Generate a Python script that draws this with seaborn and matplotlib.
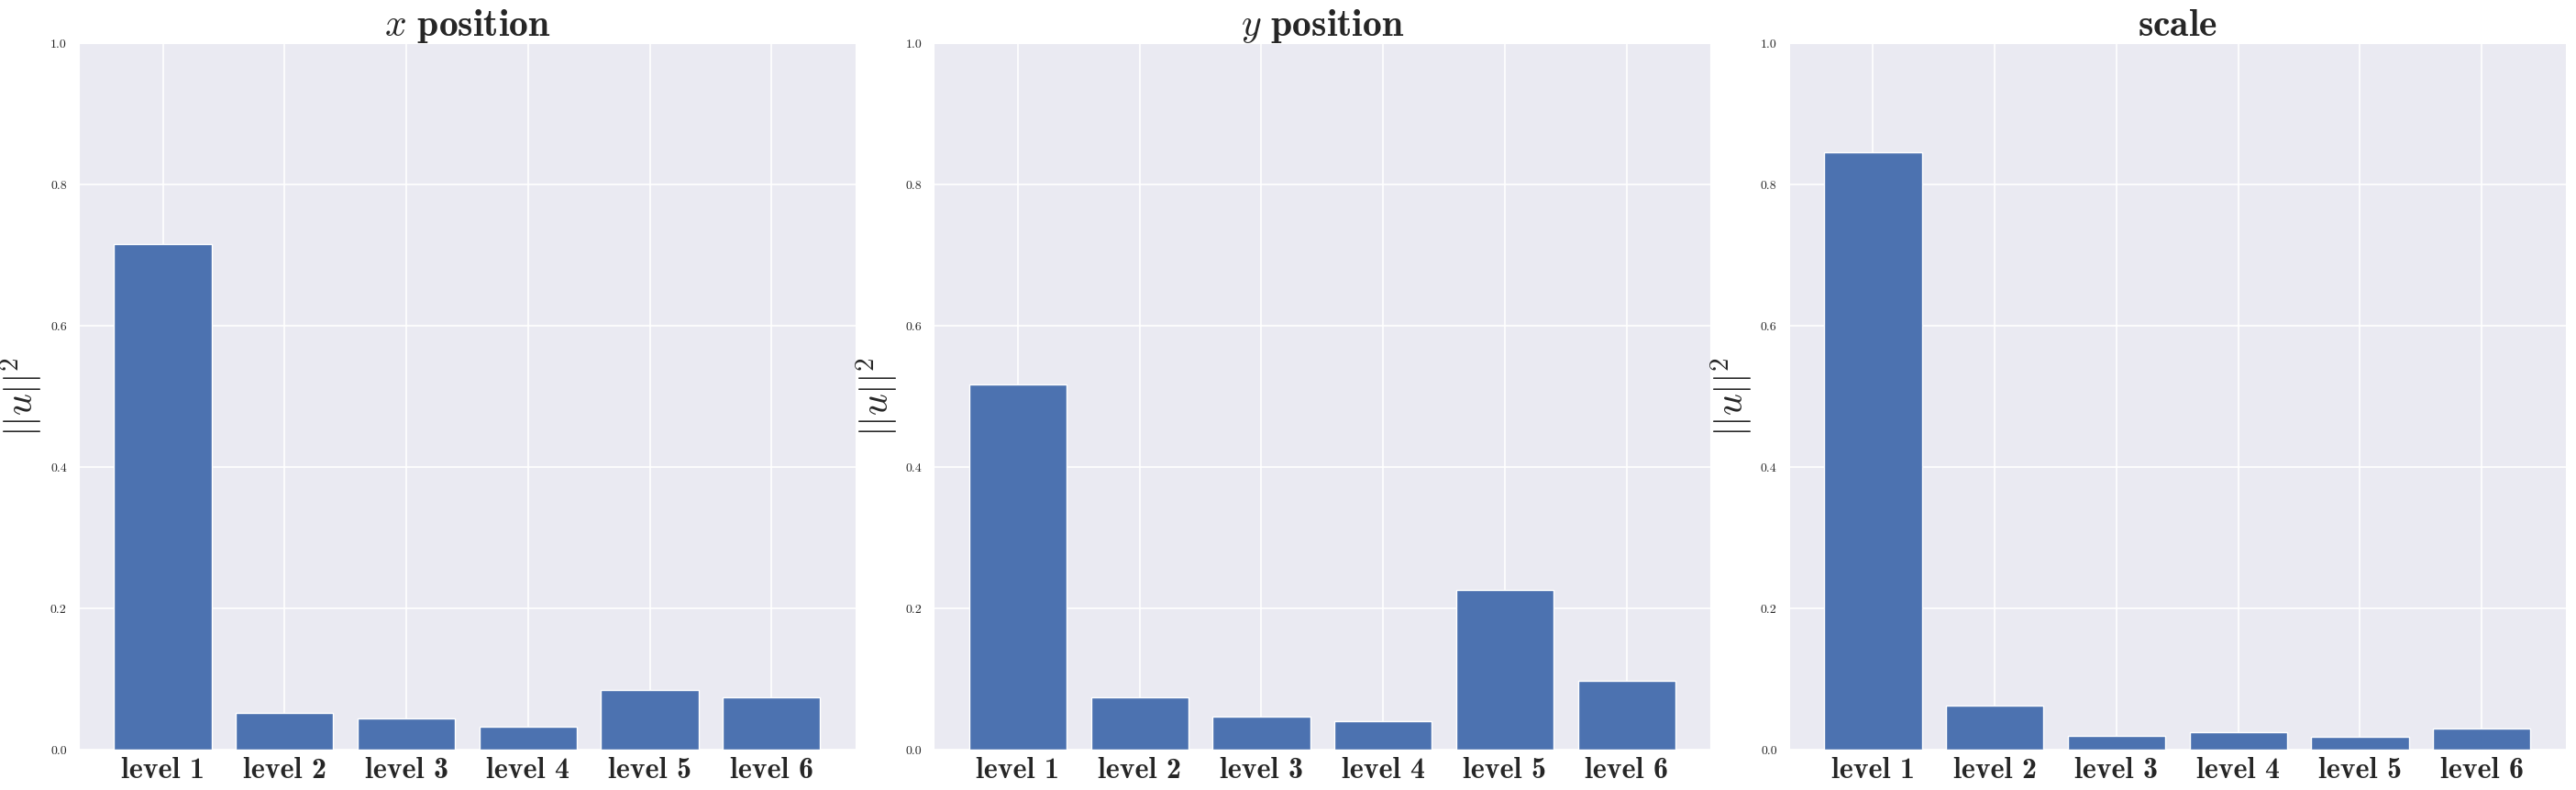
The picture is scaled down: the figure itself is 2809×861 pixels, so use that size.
import numpy as np
import pandas as pd
import seaborn as sns
import matplotlib
matplotlib.use('Agg')
import matplotlib.pyplot as plt

# values (squared norm per level)
levels = ['level 1', 'level 2', 'level 3', 'level 4', 'level 5', 'level 6']
x_pos = [0.716, 0.052, 0.044, 0.033, 0.085, 0.074]
y_pos = [0.517, 0.074, 0.047, 0.041, 0.226, 0.098]
scale = [0.846, 0.063, 0.019, 0.025, 0.0185, 0.030]
titles = [r'$x\ \mathbf{position}$', r'$y\ \mathbf{position}$', r'$\mathbf{scale}$']

sns.set_style('darkgrid')
plt.rcParams['font.family'] = 'serif'
plt.rcParams['font.serif'] = ['cmr10', 'DejaVu Serif']
plt.rcParams['mathtext.fontset'] = 'cm'
plt.rcParams['axes.unicode_minus'] = False
plt.rcParams['axes.formatter.use_mathtext'] = True

fig, axes = plt.subplots(1, 3, figsize=(28.09, 8.61), dpi=100)
fig.subplots_adjust(left=0.0306, right=0.996, bottom=0.051, top=0.945, wspace=0.101)

for ax, vals, title in zip(axes, [x_pos, y_pos, scale], titles):
    df = pd.DataFrame({'level': levels, 'norm': vals})
    sns.barplot(data=df, x='level', y='norm', ax=ax, color='#4c72b0',
                saturation=1, width=0.8)
    ax.set_xlim(-0.69, 5.69)
    ax.set_ylim(0, 1.0)
    ax.set_xticks(range(len(levels)))
    ax.set_xticklabels(levels, fontsize=23, fontfamily='cmb10')
    ax.set_yticks([0.0, 0.2, 0.4, 0.6, 0.8, 1.0])
    ax.set_yticklabels(['0.0', '0.2', '0.4', '0.6', '0.8', '1.0'], fontsize=10)
    ax.tick_params(axis='x', pad=2)
    ax.tick_params(axis='y', pad=6)
    ax.set_xlabel('')
    ax.set_ylabel(r'$||u||^2$', fontsize=30, labelpad=4)
    ax.set_title(title, fontsize=30, pad=6)
    ax.grid(True, axis='both', color='white', linewidth=1.2)
    ax.set_axisbelow(True)

fig.savefig('out.png', dpi=100)
